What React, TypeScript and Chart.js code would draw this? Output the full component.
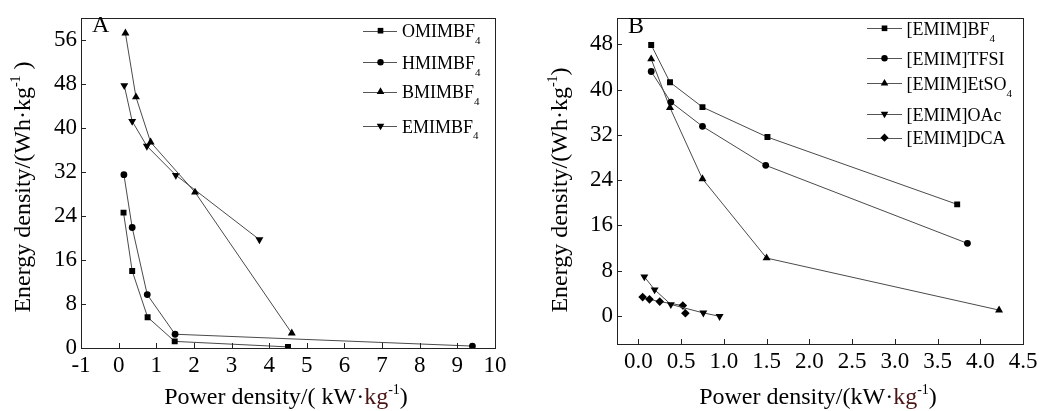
import React, { useEffect, useRef } from 'react';
import { Chart, registerables } from 'chart.js';

Chart.register(...registerables);

const FONT = '"Liberation Serif", "Times New Roman", serif';
const LINE = '#4a4a4a';

// ---- Panel A data ----
const aOmimX = [0.13, 0.36, 0.77, 1.49, 4.5];
const aOmimY = [24.6, 14.0, 5.6, 1.2, 0.2];
const aHmimX = [0.14, 0.36, 0.76, 1.5, 9.4];
const aHmimY = [31.5, 21.9, 9.7, 2.5, 0.35];
const aBmimX = [0.18, 0.46, 0.85, 2.03, 4.6];
const aBmimY = [57.2, 45.6, 37.4, 28.3, 2.7];
const aEmimX = [0.15, 0.36, 0.75, 1.52, 3.74];
const aEmimY = [47.7, 41.2, 36.7, 31.4, 19.7];
const aXTicks = [-1, 0, 1, 2, 3, 4, 5, 6, 7, 8, 9, 10];
const aYTicks = [0, 8, 16, 24, 32, 40, 48, 56];

// ---- Panel B data ----
const bBf4X = [0.15, 0.37, 0.75, 1.51, 3.73];
const bBf4Y = [47.9, 41.3, 36.9, 31.6, 19.7];
const bTfsiX = [0.15, 0.38, 0.75, 1.49, 3.85];
const bTfsiY = [43.2, 37.8, 33.5, 26.6, 12.8];
const bEtso4X = [0.15, 0.37, 0.75, 1.5, 4.22];
const bEtso4Y = [45.4, 36.8, 24.2, 10.2, 1.0];
const bOacX = [0.07, 0.19, 0.38, 0.76, 0.95];
const bOacY = [6.9, 4.6, 2.0, 0.5, -0.1];
const bDcaX = [0.05, 0.13, 0.25, 0.52, 0.55];
const bDcaY = [3.3, 2.9, 2.5, 1.8, 0.45];
const bXTicks = [0, 0.5, 1, 1.5, 2, 2.5, 3, 3.5, 4, 4.5];
const bYTicks = [0, 8, 16, 24, 32, 40, 48];

type Seg = { t: string; sub?: boolean; sup?: boolean; color?: string };
type Marker = 'rect' | 'circle' | 'triangle' | 'down' | 'diamond';

interface Series {
  name: Seg[];
  x: number[];
  y: number[];
  marker: Marker;
  r: number;
  legendY: number;
}

interface Panel {
  letter: string;
  letterX: number;
  letterY: number;
  xMin: number;
  xMax: number;
  yMin: number;
  yMax: number;
  xTicks: number[];
  yTicks: number[];
  xFmt: (v: number) => string;
  yAxisWidth: number;
  xAxisHeight: number;
  padTop: number;
  padRight: number;
  xTitle: Seg[];
  xTitleX: number;
  xTitleY: number;
  yTitle: Seg[];
  yTitleX: number;
  yTitleY: number;
  legLineX1: number;
  legLineX2: number;
  legMarkX: number;
  legTextX: number;
  series: Series[];
}

function drawRich(ctx: CanvasRenderingContext2D, segs: Seg[], x: number, y: number, size: number, align: 'left' | 'center') {
  const small = Math.round(size * 0.6);
  const widths = segs.map((s) => {
    ctx.font = `${s.sub || s.sup ? small : size}px ${FONT}`;
    return ctx.measureText(s.t).width;
  });
  const total = widths.reduce((a, b) => a + b, 0);
  let cx = align === 'center' ? x - total / 2 : x;
  ctx.textBaseline = 'alphabetic';
  ctx.textAlign = 'left';
  segs.forEach((s, i) => {
    ctx.font = `${s.sub || s.sup ? small : size}px ${FONT}`;
    ctx.fillStyle = s.color || '#000';
    const dy = s.sub ? size * 0.38 : s.sup ? -size * 0.42 : 0;
    ctx.fillText(s.t, cx, y + dy);
    cx += widths[i];
  });
}

function drawMarker(ctx: CanvasRenderingContext2D, m: Marker, x: number, y: number, r: number) {
  ctx.beginPath();
  if (m === 'rect') {
    const side = r * Math.SQRT2;
    ctx.rect(x - side / 2, y - side / 2, side, side);
  } else if (m === 'circle') {
    ctx.arc(x, y, r, 0, Math.PI * 2);
  } else if (m === 'triangle') {
    ctx.moveTo(x, y - r);
    ctx.lineTo(x + 0.866 * r, y + r / 2);
    ctx.lineTo(x - 0.866 * r, y + r / 2);
    ctx.closePath();
  } else if (m === 'down') {
    ctx.moveTo(x, y + r);
    ctx.lineTo(x + 0.866 * r, y - r / 2);
    ctx.lineTo(x - 0.866 * r, y - r / 2);
    ctx.closePath();
  } else {
    ctx.moveTo(x, y - r);
    ctx.lineTo(x + r, y);
    ctx.lineTo(x, y + r);
    ctx.lineTo(x - r, y);
    ctx.closePath();
  }
  ctx.fillStyle = '#000';
  ctx.fill();
}

const styleMap: Record<Marker, { pointStyle: string; rotation: number }> = {
  rect: { pointStyle: 'rect', rotation: 0 },
  circle: { pointStyle: 'circle', rotation: 0 },
  triangle: { pointStyle: 'triangle', rotation: 0 },
  down: { pointStyle: 'triangle', rotation: 180 },
  diamond: { pointStyle: 'rectRot', rotation: 0 },
};

function overlay(p: Panel) {
  return {
    id: 'overlay' + p.letter,
    afterDraw(chart: any) {
      const ctx: CanvasRenderingContext2D = chart.ctx;
      const ca = chart.chartArea;
      const xs = chart.scales.x;
      const ys = chart.scales.y;
      ctx.save();
      // frame
      ctx.strokeStyle = '#222';
      ctx.lineWidth = 1;
      ctx.strokeRect(Math.round(ca.left) + 0.5, Math.round(ca.top) + 0.5, Math.round(ca.right - ca.left), Math.round(ca.bottom - ca.top));
      // inward ticks
      ctx.beginPath();
      p.xTicks.forEach((v) => {
        const px = Math.round(xs.getPixelForValue(v)) + 0.5;
        ctx.moveTo(px, ca.bottom);
        ctx.lineTo(px, ca.bottom - 5);
      });
      p.yTicks.forEach((v) => {
        const py = Math.round(ys.getPixelForValue(v)) + 0.5;
        ctx.moveTo(ca.left, py);
        ctx.lineTo(ca.left + 5, py);
      });
      ctx.stroke();
      // panel letter
      drawRich(ctx, [{ t: p.letter }], p.letterX, p.letterY, 24, 'left');
      // x title
      drawRich(ctx, p.xTitle, p.xTitleX, p.xTitleY, 24, 'center');
      // y title
      ctx.save();
      ctx.translate(p.yTitleX, p.yTitleY);
      ctx.rotate(-Math.PI / 2);
      drawRich(ctx, p.yTitle, 0, 0, 24, 'center');
      ctx.restore();
      // legend
      p.series.forEach((s) => {
        ctx.beginPath();
        ctx.strokeStyle = '#555';
        ctx.lineWidth = 1;
        ctx.moveTo(p.legLineX1, Math.round(s.legendY) + 0.5);
        ctx.lineTo(p.legLineX2, Math.round(s.legendY) + 0.5);
        ctx.stroke();
        drawMarker(ctx, s.marker, p.legMarkX, s.legendY, s.r * 0.95);
        drawRich(ctx, s.name, p.legTextX, s.legendY + 6.5, 18, 'left');
      });
      ctx.restore();
    },
  };
}

function buildConfig(p: Panel): any {
  return {
    type: 'line',
    data: {
      datasets: p.series.map((s) => ({
        data: s.x.map((x, i) => ({ x, y: s.y[i] })),
        borderColor: LINE,
        borderWidth: 1,
        pointStyle: styleMap[s.marker].pointStyle,
        pointRotation: styleMap[s.marker].rotation,
        pointRadius: s.r,
        pointBackgroundColor: '#000',
        pointBorderColor: '#000',
        pointBorderWidth: 0,
        fill: false,
        tension: 0,
      })),
    },
    options: {
      responsive: false,
      animation: false,
      layout: { padding: { left: 0, right: p.padRight, top: p.padTop, bottom: 0 } },
      plugins: { legend: { display: false }, tooltip: { enabled: false } },
      scales: {
        x: {
          type: 'linear',
          min: p.xMin,
          max: p.xMax,
          afterFit: (s: any) => {
            s.height = p.xAxisHeight;
          },
          afterBuildTicks: (s: any) => {
            s.ticks = p.xTicks.map((v) => ({ value: v }));
          },
          grid: { display: false, drawTicks: false },
          border: { display: false },
          ticks: {
            font: { family: FONT, size: 23 },
            color: '#000',
            padding: 4,
            maxRotation: 0,
            autoSkip: false,
            callback: (v: any) => p.xFmt(Number(v)),
          },
        },
        y: {
          type: 'linear',
          min: p.yMin,
          max: p.yMax,
          afterFit: (s: any) => {
            s.width = p.yAxisWidth;
          },
          afterBuildTicks: (s: any) => {
            s.ticks = p.yTicks.map((v) => ({ value: v }));
          },
          grid: { display: false, drawTicks: false },
          border: { display: false },
          ticks: {
            font: { family: FONT, size: 23 },
            color: '#000',
            padding: 4,
            autoSkip: false,
            callback: (v: any) => String(v),
          },
        },
      },
    },
    plugins: [overlay(p)],
  };
}

const KG = '#4a1414';

const panelA: Panel = {
  letter: 'A',
  letterX: 92,
  letterY: 32,
  xMin: -1,
  xMax: 10,
  yMin: 0,
  yMax: 60,
  xTicks: aXTicks,
  yTicks: aYTicks,
  xFmt: (v) => String(v),
  yAxisWidth: 81,
  xAxisHeight: 63,
  padTop: 10,
  padRight: 29,
  xTitle: [{ t: 'Power density/( kW·' }, { t: 'kg', color: KG }, { t: '-1', sup: true }, { t: ')' }],
  xTitleX: 286,
  xTitleY: 404,
  yTitle: [{ t: 'Energy density/(Wh·kg' }, { t: '-1', sup: true }, { t: ' )' }],
  yTitleX: 30,
  yTitleY: 187,
  legLineX1: 363,
  legLineX2: 397,
  legMarkX: 380.5,
  legTextX: 402,
  series: [
    { name: [{ t: 'OMIMBF' }, { t: '4', sub: true }], x: aOmimX, y: aOmimY, marker: 'rect', r: 4.2, legendY: 30.7 },
    { name: [{ t: 'HMIMBF' }, { t: '4', sub: true }], x: aHmimX, y: aHmimY, marker: 'circle', r: 3.4, legendY: 62.3 },
    { name: [{ t: 'BMIMBF' }, { t: '4', sub: true }], x: aBmimX, y: aBmimY, marker: 'triangle', r: 4.6, legendY: 91.7 },
    { name: [{ t: 'EMIMBF' }, { t: '4', sub: true }], x: aEmimX, y: aEmimY, marker: 'down', r: 4.6, legendY: 126 },
  ],
};

const panelB: Panel = {
  letter: 'B',
  letterX: 104,
  letterY: 33,
  xMin: -0.25,
  xMax: 4.5,
  yMin: -5,
  yMax: 52.7,
  xTicks: bXTicks,
  yTicks: bYTicks,
  xFmt: (v) => v.toFixed(1),
  yAxisWidth: 93,
  xAxisHeight: 67,
  padTop: 10,
  padRight: 25,
  xTitle: [{ t: 'Power density/(kW·' }, { t: 'kg', color: KG }, { t: '-1', sup: true }, { t: ')' }],
  xTitleX: 294,
  xTitleY: 404,
  yTitle: [{ t: 'Energy density/(Wh·kg' }, { t: '-1', sup: true }, { t: ')' }],
  yTitleX: 43,
  yTitleY: 190,
  legLineX1: 343,
  legLineX2: 378,
  legMarkX: 360.5,
  legTextX: 382.5,
  series: [
    { name: [{ t: '[EMIM]BF' }, { t: '4', sub: true }], x: bBf4X, y: bBf4Y, marker: 'rect', r: 4.2, legendY: 28.3 },
    { name: [{ t: '[EMIM]TFSI' }], x: bTfsiX, y: bTfsiY, marker: 'circle', r: 3.4, legendY: 58.3 },
    { name: [{ t: '[EMIM]EtSO' }, { t: '4', sub: true }], x: bEtso4X, y: bEtso4Y, marker: 'triangle', r: 4.6, legendY: 83.3 },
    { name: [{ t: '[EMIM]OAc' }], x: bOacX, y: bOacY, marker: 'down', r: 4.6, legendY: 114 },
    { name: [{ t: '[EMIM]DCA' }], x: bDcaX, y: bDcaY, marker: 'diamond', r: 4.3, legendY: 137.7 },
  ],
};

function PanelChart({ panel, left }: { panel: Panel; left: number }) {
  const ref = useRef<HTMLCanvasElement | null>(null);
  useEffect(() => {
    if (!ref.current) return;
    const chart = new Chart(ref.current, buildConfig(panel));
    return () => chart.destroy();
  }, [panel]);
  return (
    <canvas
      ref={ref}
      width={524}
      height={411}
      style={{ position: 'absolute', left, top: 0, width: 524, height: 411 }}
    />
  );
}

export default function App() {
  return (
    <div style={{ position: 'fixed', left: 0, top: 0, width: 1048, height: 411, background: '#fff' }}>
      <PanelChart panel={panelA} left={0} />
      <PanelChart panel={panelB} left={524} />
    </div>
  );
}
